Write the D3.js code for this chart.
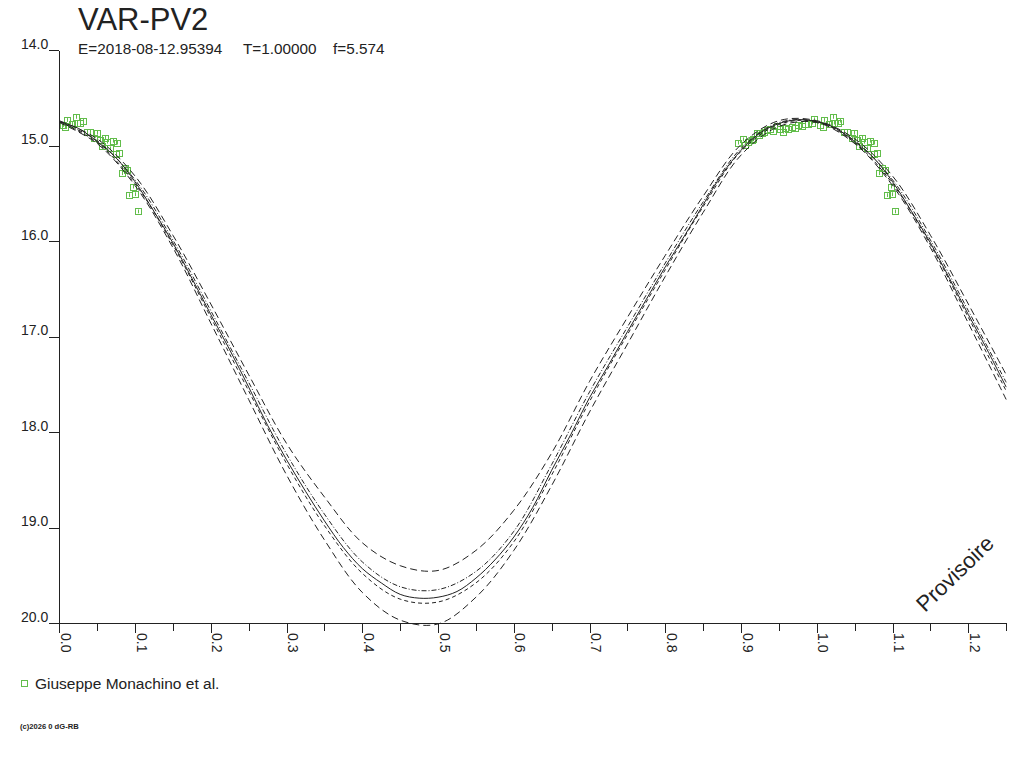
<!DOCTYPE html>
<html>
<head>
<meta charset="utf-8">
<script src="https://cdn.jsdelivr.net/npm/d3@7"></script>
<style>
  body { margin: 0; background: #fff; }
  svg { display: block; font-family: "Liberation Sans", Arial, sans-serif; }
  .axis path, .axis line { stroke: #222; shape-rendering: crispEdges; }
  .axis text { fill: #222; font-size: 14px; font-family: "Liberation Sans", Arial, sans-serif; }
</style>
</head>
<body>
<div id="chart"></div>
<script>
// phase grid for the model curves
let gridPhase = [0, 0.05, 0.10, 0.15, 0.20, 0.25, 0.30, 0.35, 0.40, 0.45, 0.50, 0.55, 0.60,
    0.65, 0.70, 0.75, 0.80, 0.85, 0.90, 0.95, 1.00, 1.05, 1.10, 1.15, 1.20, 1.25];

// mean model (solid), finer grid
let mainPhase = [0, 0.025, 0.05, 0.075, 0.1, 0.125, 0.15, 0.175, 0.2, 0.225, 0.25, 0.275, 0.3,
    0.325, 0.35, 0.375, 0.4, 0.425, 0.45, 0.475, 0.5, 0.525, 0.55, 0.575, 0.6, 0.625, 0.65,
    0.675, 0.7, 0.725, 0.75, 0.775, 0.8, 0.825, 0.85, 0.875, 0.9, 0.925, 0.95, 0.975, 1.0,
    1.025, 1.05, 1.075, 1.1, 1.125, 1.15, 1.175, 1.2, 1.225, 1.25];
let mainMag = [14.75, 14.82, 14.96, 15.13, 15.38, 15.69, 16.02, 16.39, 16.77, 17.14, 17.53, 17.93, 18.29,
    18.62, 18.93, 19.21, 19.43, 19.58, 19.70, 19.74, 19.73, 19.67, 19.53, 19.34, 19.10, 18.79, 18.40,
    18.03, 17.64, 17.30, 16.95, 16.61, 16.27, 15.95, 15.62, 15.30, 15.05, 14.87, 14.77, 14.73, 14.75,
    14.82, 14.96, 15.13, 15.38, 15.69, 16.02, 16.39, 16.77, 17.14, 17.53];

// envelope curves (dashed)
let upperOuter = [14.74, 14.93, 15.32, 15.94, 16.66, 17.40, 18.12, 18.68, 19.16, 19.40, 19.45, 19.24, 18.82,
    18.22, 17.47, 16.80, 16.15, 15.53, 14.99, 14.74, 14.74, 14.93, 15.32, 15.94, 16.66, 17.40];
let lowerOuter = [14.76, 14.98, 15.42, 16.07, 16.86, 17.66, 18.45, 19.13, 19.68, 19.97, 20.01, 19.73, 19.24,
    18.56, 17.79, 17.08, 16.37, 15.70, 15.10, 14.80, 14.76, 14.98, 15.42, 16.07, 16.86, 17.66];
let upperInner = [14.75, 14.95, 15.36, 15.99, 16.73, 17.48, 18.23, 18.86, 19.36, 19.62, 19.65, 19.46, 19.04,
    18.34, 17.58, 16.90, 16.23, 15.59, 15.03, 14.76, 14.75, 14.95, 15.36, 15.99, 16.73, 17.48];
let lowerInner = [14.75, 14.97, 15.40, 16.04, 16.80, 17.57, 18.33, 18.98, 19.48, 19.75, 19.78, 19.58, 19.15,
    18.45, 17.68, 16.98, 16.30, 15.64, 15.06, 14.78, 14.75, 14.97, 15.40, 16.04, 16.80, 17.57];

// observations (phase, magnitude)
let obsPhase = [0.0045, 0.0098, 0.0075, 0.0164, 0.022, 0.023, 0.0273, 0.0309, 0.0362, 0.0405, 0.0494,
    0.0462, 0.0537, 0.0603, 0.056, 0.0626, 0.0669, 0.0705, 0.0758, 0.0792, 0.0749, 0.0867, 0.0824,
    0.0898, 0.0977, 0.0924, 0.0999, 0.1035,
    0.8964, 0.903, 0.9052, 0.9096, 0.914, 0.9162, 0.9207, 0.9241, 0.9273, 0.9303, 0.9339, 0.9382,
    0.9426, 0.9479, 0.9514, 0.955, 0.958, 0.9624, 0.9669, 0.9712, 0.9756, 0.9801, 0.9844, 0.9888,
    0.9933, 0.9963];
let obsMag = [14.785, 14.733, 14.806, 14.775, 14.70, 14.76, 14.76, 14.74, 14.855, 14.86, 14.866,
    14.92, 14.94, 14.92, 15.01, 14.96, 15.03, 14.95, 14.97, 15.075, 15.09, 15.24, 15.29,
    15.26, 15.43, 15.52, 15.51, 15.69,
    14.97, 14.935, 14.995, 14.96, 14.94, 14.935, 14.87, 14.89, 14.866, 14.855, 14.84, 14.83,
    14.845, 14.80, 14.83, 14.855, 14.82, 14.83, 14.81, 14.82, 14.785, 14.795, 14.77, 14.775,
    14.76, 14.726];
let obsErr = 0.02;

let xTicks = [0, 0.1, 0.2, 0.3, 0.4, 0.5, 0.6, 0.7, 0.8, 0.9, 1.0, 1.1, 1.2];
let xMinor = [0.05, 0.15, 0.25, 0.35, 0.45, 0.55, 0.65, 0.75, 0.85, 0.95, 1.05, 1.15, 1.25];
let yTicks = [14, 15, 16, 17, 18, 19, 20];

let title = "VAR-PV2";
let subtitle = ["E=2018-08-12.95394", "T=1.00000", "f=5.574"];
let legendLabel = "Giuseppe Monachino et al.";

const green = "#62bd4b";
const ink = "#222";

const svg = d3.select("#chart").append("svg")
    .attr("width", 1024)
    .attr("height", 768);

svg.append("rect").attr("width", 1024).attr("height", 768).attr("fill", "#fff");

let x = d3.scaleLinear().domain([0, 1.25]).range([59.3, 1006.2]);
let y = d3.scaleLinear().domain([14, 20]).range([50, 623]);

// X axis: major ticks with rotated labels, then minor ticks
let xAxis = svg.append("g")
    .attr("class", "axis")
    .attr("transform", "translate(0," + y(20) + ")")
    .call(d3.axisBottom(x).tickValues(xTicks).tickSize(10).tickSizeOuter(0).tickFormat(d3.format(".1f")));
xAxis.selectAll("text")
    .attr("transform", "rotate(90)")
    .attr("x", 10)
    .attr("y", -1)
    .attr("dy", "0")
    .attr("dominant-baseline", "alphabetic")
    .style("text-anchor", "start");

svg.append("g")
    .attr("class", "axis")
    .attr("transform", "translate(0," + y(20) + ")")
    .call(d3.axisBottom(x).tickValues(xMinor).tickSize(8).tickSizeOuter(0).tickFormat(""))
    .select(".domain").remove();

// Y axis
let yAxis = svg.append("g")
    .attr("class", "axis")
    .attr("transform", "translate(" + x(0) + ",0)")
    .call(d3.axisLeft(y).tickValues(yTicks).tickSize(10).tickSizeOuter(0).tickFormat(d3.format(".1f")));
yAxis.selectAll("text")
    .attr("x", -11)
    .attr("dy", "-2");

// observations, plotted at phase and phase+1
let obs = [];
obsPhase.forEach((p, i) => {
    obs.push({p: p, m: obsMag[i]});
    if (p + 1 <= 1.25) obs.push({p: p + 1, m: obsMag[i]});
});

let pts = svg.append("g").attr("class", "obs");
pts.selectAll("rect")
    .data(obs)
    .enter()
    .append("rect")
    .attr("x", d => Math.round(x(d.p)) - 3 + 0.5)
    .attr("y", d => Math.round(y(d.m)) - 3 + 0.5)
    .attr("width", 6)
    .attr("height", 6)
    .attr("fill", "none")
    .attr("stroke", green)
    .attr("stroke-width", 1);
pts.selectAll("line")
    .data(obs)
    .enter()
    .append("line")
    .attr("x1", d => Math.round(x(d.p)) + 0.5)
    .attr("x2", d => Math.round(x(d.p)) + 0.5)
    .attr("y1", d => y(d.m - obsErr))
    .attr("y2", d => y(d.m + obsErr))
    .attr("stroke", green)
    .attr("stroke-width", 1);

// model curves
let line = d3.line()
    .x(d => x(d.p))
    .y(d => y(d.m))
    .curve(d3.curveCatmullRom.alpha(0.5));

let curves = [
    {vals: upperOuter, dash: "7,4"},
    {vals: lowerOuter, dash: "7,4"},
    {vals: upperInner, dash: "5,2,1,2"},
    {vals: lowerInner, dash: "4,3"}
];

svg.append("g").selectAll("path")
    .data(curves)
    .enter()
    .append("path")
    .attr("fill", "none")
    .attr("stroke", ink)
    .attr("stroke-width", 1)
    .attr("stroke-dasharray", d => d.dash)
    .attr("d", d => line(d.vals.map((m, i) => ({p: gridPhase[i], m: m}))));

svg.append("path")
    .attr("fill", "none")
    .attr("stroke", ink)
    .attr("stroke-width", 1)
    .attr("d", line(mainMag.map((m, i) => ({p: mainPhase[i], m: m}))));

// title and ephemeris
svg.append("text")
    .attr("x", 78).attr("y", 30)
    .attr("font-size", 31)
    .attr("fill", ink)
    .text(title);

let subX = [78, 243, 333];
svg.selectAll(".sub")
    .data(subtitle)
    .enter()
    .append("text")
    .attr("class", "sub")
    .attr("x", (d, i) => subX[i])
    .attr("y", 54)
    .attr("font-size", 15.3)
    .attr("fill", ink)
    .text(d => d);

// watermark
svg.append("text")
    .attr("transform", "translate(925,613) rotate(-44)")
    .attr("font-size", 22)
    .attr("fill", ink)
    .text("Provisoire");

// legend
svg.append("rect")
    .attr("x", 21.5).attr("y", 680.5)
    .attr("width", 6).attr("height", 6)
    .attr("fill", "none")
    .attr("stroke", green);
svg.append("text")
    .attr("x", 35).attr("y", 689)
    .attr("font-size", 15.5)
    .attr("fill", ink)
    .text(legendLabel);

svg.append("text")
    .attr("x", 20).attr("y", 729)
    .attr("font-size", 7.6)
    .attr("font-weight", "bold")
    .attr("fill", ink)
    .text("(c)2026 0 dG-RB");
</script>
</body>
</html>
